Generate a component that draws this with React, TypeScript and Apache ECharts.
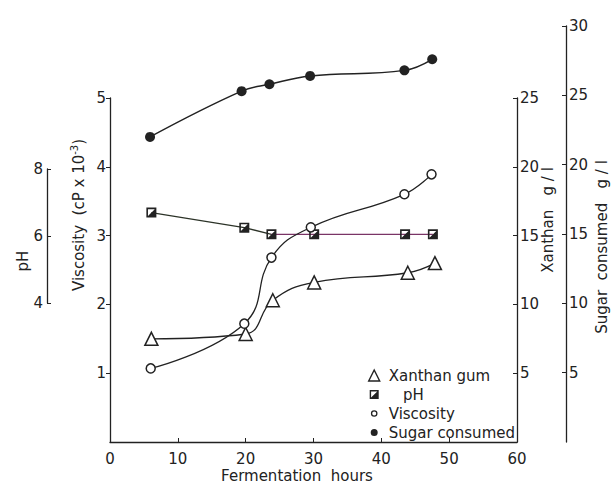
import React, { useEffect, useRef } from "react";
import * as echarts from "echarts";

// ---- data ----
const xTicks = [0, 10, 20, 30, 40, 50, 60];
const hoursXanthan = [6.1, 20.0, 24.0, 30.1, 43.9, 47.9];
const xanthan = [7.5, 7.85, 10.3, 11.6, 12.3, 13.0];
const hoursPH = [6.1, 19.8, 23.8, 30.1, 43.5, 47.6];
const pH = [6.7, 6.25, 6.05, 6.05, 6.05, 6.05];
const hoursVisc = [6.0, 19.8, 23.8, 29.6, 43.4, 47.4];
const viscosity = [1.07, 1.72, 2.68, 3.12, 3.6, 3.89];
const hoursSugar = [5.9, 19.4, 23.5, 29.5, 43.4, 47.5];
const sugar = [22.0, 25.3, 25.8, 26.4, 26.8, 27.6];
const seriesNames = ["Xanthan gum", "pH", "Viscosity", "Sugar consumed"];

const INK = "#222";
const FONT = "DejaVu Sans";
const SQUARE =
  "path://M0,0L10,0L10,10L0,10Z M1.6,1.6L1.6,8.4L8.4,8.4L8.4,1.6Z M8.4,1.6L8.4,8.4L1.6,8.4Z";
// legend icons with an invisible bounding box so the circles stay small
const LEG_SQUARE =
  "path://M0,0L0,0 M11,11L11,11 M1,1L10,1L10,10L1,10Z M2.4,2.4L2.4,8.6L8.6,8.6L8.6,2.4Z M8.6,2.4L8.6,8.6L2.4,8.6Z";
const LEG_OPEN =
  "path://M0,0L0,0 M11,11L11,11 M5.5,2.2A3.3,3.3 0 1,1 5.5,8.8A3.3,3.3 0 1,1 5.5,2.2Z M5.5,3.5A2,2 0 1,0 5.5,7.5A2,2 0 1,0 5.5,3.5Z";
const LEG_DOT =
  "path://M0,0L0,0 M11,11L11,11 M5.5,2A3.5,3.5 0 1,1 5.5,9A3.5,3.5 0 1,1 5.5,2Z";

const pairs = (xs: number[], ys: number[]) => xs.map((x, i) => [x, ys[i]]);

export default function App() {
  const ref = useRef<HTMLDivElement>(null);
  useEffect(() => {
    if (!ref.current) return;
    const chart = echarts.init(ref.current, null, { renderer: "svg" });
    const cut = (hoursPH[2] - hoursPH[0]) / (hoursPH[hoursPH.length - 1] - hoursPH[0]);
    const axisLine = { show: true, onZero: false, lineStyle: { color: INK, width: 1.3 } };
    const label = { color: INK, fontSize: 15, fontFamily: FONT };
    const hiddenX = (g: number) => ({
      type: "value", gridIndex: g, min: xTicks[0], max: xTicks[xTicks.length - 1], show: false,
    });
    chart.setOption({
      animation: false,
      backgroundColor: "#fff",
      textStyle: { fontFamily: FONT, color: INK },
      grid: [
        { left: 110, right: 96, top: 98, bottom: 45 },
        { left: 110, right: 96, top: 26, bottom: 45 },
        { left: 110, right: 96, top: 169, bottom: 184 },
      ],
      xAxis: [
        {
          type: "value", gridIndex: 0, min: xTicks[0], max: xTicks[xTicks.length - 1], interval: 10,
          axisLine, axisTick: { inside: true, length: 4, lineStyle: { color: INK } },
          axisLabel: { ...label, margin: 9 }, splitLine: { show: false },
        },
        hiddenX(1),
        hiddenX(2),
      ],
      yAxis: [
        {
          type: "value", gridIndex: 0, position: "left", min: 0, max: 5, interval: 1,
          axisLine, axisTick: { show: true, inside: false, length: 4, lineStyle: { color: INK } },
          axisLabel: { ...label, margin: 4, showMinLabel: false }, splitLine: { show: false },
        },
        {
          type: "value", gridIndex: 0, position: "right", min: 0, max: 25, interval: 5,
          axisLine, axisTick: { show: true, inside: true, length: 4, lineStyle: { color: INK } },
          axisLabel: { ...label, margin: 3, showMinLabel: false }, splitLine: { show: false },
        },
        {
          type: "value", gridIndex: 1, position: "right", offset: 49, min: 0, max: 30, interval: 5,
          axisLine, axisTick: { show: true, inside: true, length: 4, lineStyle: { color: INK } },
          axisLabel: { ...label, margin: 3, showMinLabel: false }, splitLine: { show: false },
        },
        {
          type: "value", gridIndex: 2, position: "left", offset: 63, min: 4, max: 8, interval: 2,
          axisLine, axisTick: { show: true, inside: true, length: 4, lineStyle: { color: INK } },
          axisLabel: { ...label, margin: 4 }, splitLine: { show: false },
        },
      ],
      legend: {
        orient: "vertical", left: 363, top: 363, itemWidth: 11, itemHeight: 11, itemGap: 4,
        textStyle: { fontSize: 15, color: INK, fontFamily: FONT, lineHeight: 15, padding: [0, 0, 0, 4] },
        formatter: (n: string) => (n === "pH" ? "   pH" : n),
        selectedMode: false,
        data: [
          { name: seriesNames[0], icon: "triangle", itemStyle: { color: "#fff", borderColor: INK, borderWidth: 1.4 } },
          { name: seriesNames[1], icon: LEG_SQUARE, itemStyle: { color: INK, borderWidth: 0 } },
          { name: seriesNames[2], icon: LEG_OPEN, itemStyle: { color: INK, borderWidth: 0 } },
          { name: seriesNames[3], icon: LEG_DOT, itemStyle: { color: INK, borderWidth: 0 } },
        ],
      },
      series: [
        {
          name: seriesNames[0], type: "line", xAxisIndex: 0, yAxisIndex: 1, smooth: 0.45,
          data: pairs(hoursXanthan, xanthan), symbol: "triangle", symbolSize: 13,
          itemStyle: { color: "#fff", borderColor: INK, borderWidth: 1.5 },
          lineStyle: { color: INK, width: 1.3 }, z: 3,
        },
        {
          name: seriesNames[1], type: "line", xAxisIndex: 2, yAxisIndex: 3, smooth: false,
          data: pairs(hoursPH, pH), symbol: SQUARE, symbolSize: 10, symbolKeepAspect: true,
          itemStyle: { color: INK, borderWidth: 0 },
          lineStyle: {
            width: 1.3,
            color: new echarts.graphic.LinearGradient(0, 0, 1, 0, [
              { offset: 0, color: "#2c3328" },
              { offset: cut, color: "#2c3328" },
              { offset: cut, color: "#7a3466" },
              { offset: 1, color: "#7a3466" },
            ]),
          },
          z: 4,
        },
        {
          name: seriesNames[2], type: "line", xAxisIndex: 0, yAxisIndex: 0, smooth: 0.45,
          data: pairs(hoursVisc, viscosity), symbol: "circle", symbolSize: 9,
          itemStyle: { color: "#fff", borderColor: INK, borderWidth: 1.5 },
          lineStyle: { color: INK, width: 1.3 }, z: 5,
        },
        {
          name: seriesNames[3], type: "line", xAxisIndex: 1, yAxisIndex: 2, smooth: 0.4,
          data: pairs(hoursSugar, sugar), symbol: "circle", symbolSize: 10,
          itemStyle: { color: INK, borderWidth: 0 },
          lineStyle: { color: INK, width: 1.5 }, z: 5,
        },
      ],
      graphic: [
        {
          type: "text", x: 297, y: 476,
          style: { text: "Fermentation  hours", fontSize: 15, fontFamily: FONT, fill: INK, textAlign: "center", textVerticalAlign: "middle" },
        },
        {
          type: "text", x: 79, y: 215, rotation: Math.PI / 2,
          style: {
            text: "{a|Viscosity  (cP x 10}{s|-3}{a|)}", fontFamily: FONT, fill: INK,
            textAlign: "center", textVerticalAlign: "middle",
            rich: {
              a: { fontSize: 15, fontFamily: FONT, fill: INK },
              s: { fontSize: 10, fontFamily: FONT, fill: INK, padding: [0, 0, 10, 0] },
            },
          },
        },
        {
          type: "text", x: 23, y: 261, rotation: Math.PI / 2,
          style: { text: "pH", fontSize: 15, fontFamily: FONT, fill: INK, textAlign: "center", textVerticalAlign: "middle" },
        },
        {
          type: "text", x: 548, y: 220, rotation: Math.PI / 2,
          style: { text: "Xanthan   g / l", fontSize: 15, fontFamily: FONT, fill: INK, textAlign: "center", textVerticalAlign: "middle" },
        },
        {
          type: "text", x: 602, y: 247, rotation: Math.PI / 2,
          style: { text: "Sugar  consumed   g / l", fontSize: 15, fontFamily: FONT, fill: INK, textAlign: "center", textVerticalAlign: "middle" },
        },
      ],
    });
    return () => chart.dispose();
  }, []);
  return <div ref={ref} style={{ position: "absolute", left: 0, top: 0, width: 613, height: 487 }} />;
}
